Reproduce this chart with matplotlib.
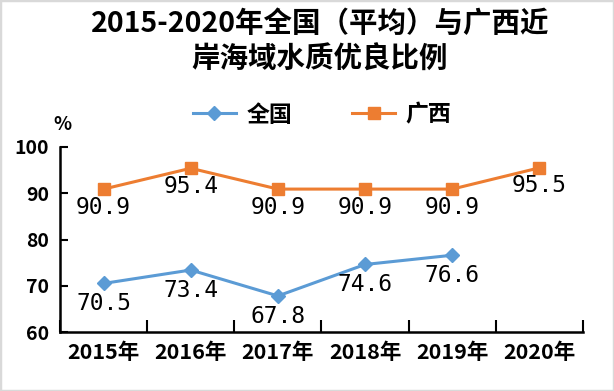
import numpy as np
import matplotlib
matplotlib.use("Agg")
import matplotlib.pyplot as plt
from matplotlib.patches import Rectangle

plt.rcParams['font.family'] = ['Noto Sans CJK SC', 'DejaVu Sans']

years = ["2015年", "2016年", "2017年", "2018年", "2019年", "2020年"]
national = [70.5, 73.4, 67.8, 74.6, 76.6]
guangxi = [90.9, 95.4, 90.9, 90.9, 90.9, 95.5]

blue = "#5B9BD5"
orange = "#ED7D31"

fig = plt.figure(figsize=(6.14, 3.91), dpi=100)
ax = fig.add_axes([60 / 614, 1 - 332 / 391, 523 / 614, 185 / 391])

x = np.arange(len(years))
ax.plot(x[:len(national)], national, color=blue, lw=2.2, marker="D", ms=7,
        label="全国")
ax.plot(x, guangxi, color=orange, lw=2.2, marker="s", ms=8, label="广西")

# value labels under each point
for xi, v in zip(x, national):
    ax.annotate("{:.1f}".format(v), (xi, v), xytext=(0, -14.5), textcoords="offset points",
                ha="center", va="center", fontsize=16.5, family="DejaVu Sans Mono")
for xi, v in zip(x, guangxi):
    ax.annotate("{:.1f}".format(v), (xi, v), xytext=(0, -13), textcoords="offset points",
                ha="center", va="center", fontsize=16.5, family="DejaVu Sans Mono")

ax.set_xlim(-0.5, len(years) - 0.5)
ax.set_ylim(60, 100)
ax.set_yticks([60, 70, 80, 90, 100])
ax.set_xticks(x)
ax.set_xticklabels(years, fontsize=15.5, fontweight="bold")
ax.set_xticks(np.arange(-0.5, len(years)), minor=True)
ax.tick_params(axis="x", which="major", length=0, pad=7)
ax.tick_params(axis="x", which="minor", length=9, direction="in", width=1.5)
ax.tick_params(axis="y", length=6, direction="in", width=1.5, labelsize=14, pad=8)
for lbl in ax.get_yticklabels():
    lbl.set_fontweight("bold")

for side in ("top", "right"):
    ax.spines[side].set_visible(False)
for side in ("left", "bottom"):
    ax.spines[side].set_linewidth(1.8)

fig.text(320 / 614, 1 - 24 / 391, "2015-2020年全国（平均）与广西近",
         ha="center", va="center", fontsize=20.5, fontweight="bold")
fig.text(320 / 614, 1 - 60 / 391, "岸海域水质优良比例",
         ha="center", va="center", fontsize=20.5, fontweight="bold")
fig.text(62 / 614, 1 - 125 / 391, "%", ha="center", va="center", fontsize=13.5,
         fontweight="bold")

fig.legend(loc="center", bbox_to_anchor=(322 / 614, 1 - 115 / 391), ncol=2,
           frameon=False, handlelength=1.9, columnspacing=2.6, handletextpad=0.45,
           prop={"weight": "bold", "size": 16.5})

fig.patches.append(Rectangle((0, 0), 1, 1, transform=fig.transFigure, fill=False,
                             edgecolor="#D9D9D9", lw=2.5))

plt.savefig("out.png", dpi=100)
